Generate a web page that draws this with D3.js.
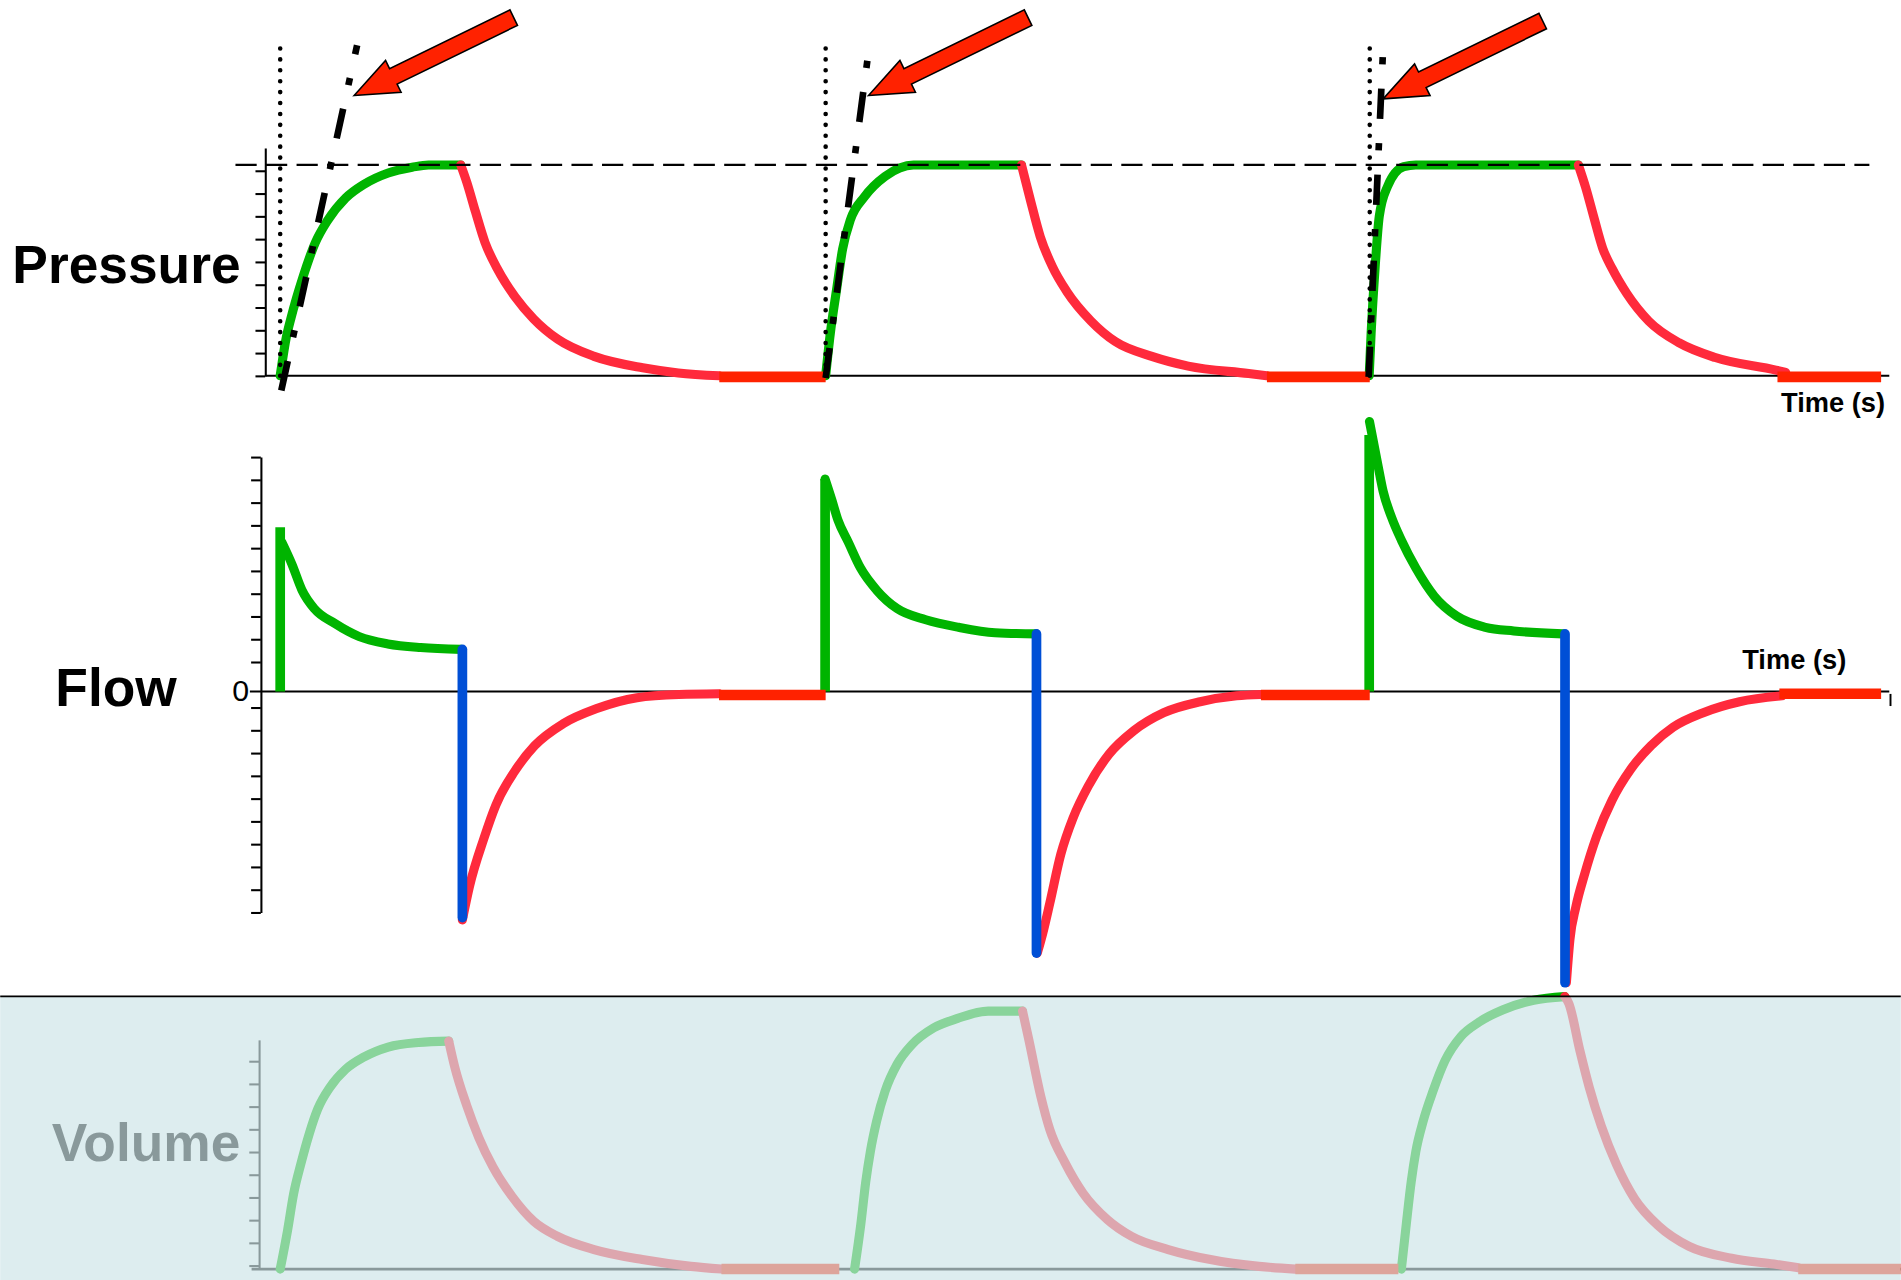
<!DOCTYPE html>
<html>
<head>
<meta charset="utf-8">
<script src="https://cdn.jsdelivr.net/npm/d3@7"></script>
<style>
  html, body { margin: 0; padding: 0; background: #fff; }
  svg { display: block; }
  text { font-family: "Liberation Sans", Arial, Helvetica, sans-serif; }
</style>
</head>
<body>
<div id="chart"></div>
<script>
// ---- data (time in s, pressure in cmH2O, flow in L/min, volume in mL) ----

// pressure: inspiration (green), expiration (red), rest at baseline (bright red)
var pressureInsp = [
  [[0, 0], [0.021, 3.2], [0.04, 5.1], [0.084, 8.7], [0.129, 11.7], [0.173, 13.6], [0.24, 15.6], [0.307, 16.8], [0.396, 17.8], [0.484, 18.3], [0.544, 18.5], [0.662, 18.5]],
  [[2.0, 0], [2.017, 3.7], [2.04, 7.55], [2.062, 11.1], [2.091, 13.7], [2.142, 15.7], [2.218, 17.5], [2.322, 18.5], [2.718, 18.5]],
  [[3.993, 0], [4.0, 3.7], [4.015, 9.6], [4.03, 14.0], [4.06, 16.6], [4.12, 18.35], [4.164, 18.5], [4.76, 18.5]]
];
var pressureExp = [
  [[0.662, 18.5], [0.684, 17.0], [0.716, 14.4], [0.751, 11.7], [0.796, 9.4], [0.862, 6.9], [0.929, 5.0], [1.018, 3.2], [1.151, 1.7], [1.329, 0.7], [1.46, 0.25], [1.61, 0]],
  [[2.718, 18.5], [2.751, 15.4], [2.787, 12.2], [2.831, 9.6], [2.884, 7.4], [2.973, 4.8], [3.062, 3.0], [3.196, 1.7], [3.329, 0.85], [3.551, 0.2], [3.618, 0]],
  [[4.76, 18.5], [4.787, 16.5], [4.818, 13.8], [4.849, 11.2], [4.884, 9.4], [4.938, 7.2], [5.018, 4.8], [5.129, 2.9], [5.262, 1.6], [5.484, 0.5], [5.52, 0.3]]
];
var pressureRest = [[1.61, 2.0, -0.1], [3.618, 3.995, -0.1], [5.49, 5.87, -0.1]];
var plateauPressure = 18.5;
var pressureTicks = [0, 2, 4, 6, 8, 10, 12, 14, 16, 18];
var breathStart = [0, 2.0, 3.995];
// tangent (initial slope) lines and the arrows pointing at them
var slopeLines = [
  [[0.004, -1.3], [0.282, 29.0]],
  [[2.0, -0.2], [2.157, 28.4]],
  [[3.991, -0.1], [4.044, 28.7]]
];
var arrowTips = [[0.271, 24.6], [2.157, 24.6], [4.044, 24.3]];

// flow
var flowRise = [[0, 72.1], [1.998, 93.3], [3.993, 112.7]];
var flowInsp = [
  [[0.006, 65.6], [0.043, 55.9], [0.08, 44.5], [0.125, 36.4], [0.2, 29.9], [0.29, 24.1], [0.395, 20.9], [0.515, 19.3], [0.664, 18.5]],
  [[1.998, 93.3], [2.022, 84.4], [2.045, 75.3], [2.083, 65.6], [2.128, 54.2], [2.187, 44.5], [2.262, 36.4], [2.367, 31.5], [2.487, 28.2], [2.621, 25.8], [2.771, 25.3]],
  [[3.994, 118.6], [4.026, 98.8], [4.044, 88.0], [4.075, 76.5], [4.112, 66.2], [4.164, 54.2], [4.232, 41.8], [4.314, 33.1], [4.419, 28.2], [4.523, 26.6], [4.703, 25.3]]
];
var flowDrop = [[0.668, 18.5, -99.3], [2.773, 25.3, -114.9], [4.711, 25.3, -127.9]];
var flowExp = [
  [[0.668, -100.3], [0.694, -85.6], [0.747, -64.5], [0.791, -49.8], [0.859, -35.2], [0.933, -23.8], [1.038, -14.1], [1.158, -7.6], [1.308, -2.7], [1.462, -1.3], [1.609, -1.0]],
  [[2.776, -114.9], [2.796, -106.2], [2.822, -92.9], [2.862, -71.6], [2.907, -55.6], [2.964, -41.3], [3.04, -27.4], [3.129, -17.3], [3.24, -9.3], [3.373, -4.5], [3.507, -1.9], [3.596, -1.3]],
  [[4.716, -127.9], [4.729, -108.9], [4.751, -94.5], [4.782, -80.6], [4.827, -63.6], [4.884, -47.6], [4.951, -34.3], [5.027, -23.7], [5.107, -15.7], [5.218, -9.3], [5.351, -4.5], [5.507, -1.9]]
];
var flowRest = [[1.609, 2.0, -1.5], [3.596, 3.995, -1.5], [5.497, 5.87, -1.0]];
var flowTicks = [-97, -87, -77, -67, -57, -47, -37, -27, -17, -7, 13, 23, 33, 43, 53, 63, 73, 83, 93, 103];

// volume
var volInsp = [
  [[0, 0], [0.027, 85], [0.049, 165], [0.076, 232], [0.107, 299], [0.138, 353], [0.182, 400], [0.24, 440], [0.307, 467], [0.396, 489], [0.507, 499], [0.618, 502]],
  [[2.106, 0], [2.129, 99], [2.147, 192], [2.164, 259], [2.187, 326], [2.218, 392], [2.262, 451], [2.316, 494], [2.396, 531], [2.484, 552], [2.596, 568], [2.722, 568]],
  [[4.111, 0], [4.129, 99], [4.147, 192], [4.164, 259], [4.191, 326], [4.227, 392], [4.271, 459], [4.329, 512], [4.396, 544], [4.484, 571], [4.596, 592], [4.71, 600]]
];
var volExp = [
  [[0.618, 502], [0.64, 445], [0.684, 360], [0.728, 290], [0.78, 225], [0.85, 160], [0.93, 105], [1.017, 72], [1.151, 43], [1.328, 21], [1.506, 6], [1.618, 0]],
  [[2.722, 568], [2.745, 505], [2.789, 380], [2.822, 307], [2.878, 234], [2.944, 167], [3.033, 109], [3.122, 72], [3.256, 43], [3.411, 21], [3.589, 6], [3.722, 0]],
  [[4.71, 600], [4.725, 585], [4.766, 480], [4.8, 400], [4.844, 315], [4.9, 230], [4.966, 155], [5.056, 94], [5.166, 50], [5.322, 24], [5.477, 11], [5.566, 3]]
];
var volRest = [[1.618, 2.05, 0], [3.722, 4.1, 0], [5.566, 5.942, 0]];
var volTicks = [8, 58, 108, 158, 208, 258, 308, 358, 408, 458];

// ---- layout (drawing units; viewBox scales them up to the 1901x1280 window) ----
var W = 1568, H = 1056;
var col = { insp: "#00b400", exp: "#ff2a3c", rest: "#ff2200", drop: "#004fd6" };
var lineW = 7.5;

var svg = d3.select("#chart").append("svg")
    .attr("width", 1901)
    .attr("height", 1280)
    .attr("viewBox", "0 0 " + W + " " + H);

var x = d3.scaleLinear().domain([0, 6]).range([231, 1581]);
var yP = d3.scaleLinear().domain([0, 20]).range([310, 122]);
var yF = d3.scaleLinear().domain([-97, 103]).range([752.7, 377]);
var yV = d3.scaleLinear().domain([0, 505]).range([1047, 857.8]);

function curveFor(y) {
    return d3.line()
        .x(function (d) { return x(d[0]); })
        .y(function (d) { return y(d[1]); })
        .curve(d3.curveMonotoneX);
}
function straightFor(y) {
    return d3.line()
        .x(function (d) { return x(d[0]); })
        .y(function (d) { return y(d[1]); });
}

function yAxis(g, y, ticks, xPos) {
    var a = g.append("g")
        .attr("transform", "translate(" + xPos + ",0)")
        .attr("color", "#000")
        .call(d3.axisLeft(y).tickValues(ticks).tickSize(8).tickSizeOuter(0).tickFormat(""));
    a.selectAll("path, line").attr("stroke-width", 1.7);
}

function drawCurves(g, y, insp, exp, rest, width) {
    var curve = curveFor(y), straight = straightFor(y);
    insp.forEach(function (seg) {
        g.append("path").datum(seg).attr("d", curve)
            .attr("fill", "none").attr("stroke", col.insp).attr("stroke-width", width)
            .attr("stroke-linecap", "round").attr("stroke-linejoin", "round");
    });
    exp.forEach(function (seg) {
        g.append("path").datum(seg).attr("d", curve)
            .attr("fill", "none").attr("stroke", col.exp).attr("stroke-width", width)
            .attr("stroke-linecap", "round").attr("stroke-linejoin", "round");
    });
    rest.forEach(function (r) {
        g.append("path").datum([[r[0], r[2]], [r[1], r[2]]]).attr("d", straight)
            .attr("fill", "none").attr("stroke", col.rest).attr("stroke-width", width + 1.2);
    });
}

// ===== Pressure =====
var gP = svg.append("g");
yAxis(gP, yP, pressureTicks, 218.6);
gP.append("line")
    .attr("x1", 218.6).attr("x2", x(5.9))
    .attr("y1", yP(0)).attr("y2", yP(0))
    .attr("stroke", "#000").attr("stroke-width", 1.7);

drawCurves(gP, yP, pressureInsp, pressureExp, pressureRest, lineW);

// set pressure level
gP.append("path")
    .datum([[-0.164, plateauPressure], [5.827, plateauPressure]])
    .attr("d", straightFor(yP))
    .attr("fill", "none").attr("stroke", "#000").attr("stroke-width", 1.9)
    .attr("stroke-dasharray", "17.5 7.7");

// start of each breath
breathStart.forEach(function (t) {
    gP.append("path")
        .datum([[t, 0], [t, 28.8]])
        .attr("d", straightFor(yP))
        .attr("fill", "none").attr("stroke", "#000").attr("stroke-width", 3.8)
        .attr("stroke-linecap", "round").attr("stroke-dasharray", "0 9");
});

// initial slope lines
slopeLines.forEach(function (s) {
    gP.append("path")
        .datum(s)
        .attr("d", straightFor(yP))
        .attr("fill", "none").attr("stroke", "#000").attr("stroke-width", 5.5)
        .attr("stroke-dasharray", "25 20 6 20");
});

// block arrows
var arrowShape = [[0, 0], [36, 14.6], [36, 7.1], [146.5, 7.1], [146.5, -7.1], [36, -7.1], [36, -14.6]];
var U = [0.8988, -0.4384], N = [0.4384, 0.8988];
arrowTips.forEach(function (tip) {
    var tx = x(tip[0]), ty = yP(tip[1]);
    var pts = arrowShape.map(function (p) {
        return [tx + p[0] * U[0] + p[1] * N[0], ty + p[0] * U[1] + p[1] * N[1]];
    });
    gP.append("polygon")
        .attr("points", pts.map(function (p) { return p.join(","); }).join(" "))
        .attr("fill", "#ff2200").attr("stroke", "#000").attr("stroke-width", 1.3)
        .attr("stroke-linejoin", "miter");
});

gP.append("text").attr("x", 10).attr("y", 233.5)
    .attr("font-size", 44).attr("font-weight", "bold").text("Pressure");
gP.append("text").attr("x", 1555).attr("y", 340).attr("text-anchor", "end")
    .attr("font-size", 22.5).attr("font-weight", "bold").text("Time (s)");

// ===== Flow =====
var gF = svg.append("g");
yAxis(gF, yF, flowTicks, 215);
gF.append("line")
    .attr("x1", 206).attr("x2", x(5.9))
    .attr("y1", yF(0)).attr("y2", yF(0))
    .attr("stroke", "#000").attr("stroke-width", 1.7);
gF.append("line")
    .attr("x1", x(5.9) + 1).attr("x2", x(5.9) + 1)
    .attr("y1", yF(0) + 2).attr("y2", yF(0) + 12)
    .attr("stroke", "#000").attr("stroke-width", 1.6);

flowRise.forEach(function (r) {
    gF.append("path").datum([[r[0], 0], [r[0], r[1]]]).attr("d", straightFor(yF))
        .attr("fill", "none").attr("stroke", col.insp).attr("stroke-width", lineW + 0.5);
});
drawCurves(gF, yF, flowInsp, flowExp, flowRest, lineW);
flowDrop.forEach(function (d) {
    gF.append("path").datum([[d[0], d[1]], [d[0], d[2]]]).attr("d", straightFor(yF))
        .attr("fill", "none").attr("stroke", col.drop).attr("stroke-width", lineW + 0.5)
        .attr("stroke-linecap", "round");
});

gF.append("text").attr("x", 45.5).attr("y", 582.5)
    .attr("font-size", 44).attr("font-weight", "bold").text("Flow");
gF.append("text").attr("x", 205.3).attr("y", 578.6).attr("text-anchor", "end")
    .attr("font-size", 25).text("0");
gF.append("text").attr("x", 1523).attr("y", 552).attr("text-anchor", "end")
    .attr("font-size", 22.5).attr("font-weight", "bold").text("Time (s)");

// ===== Volume (drawn normally, then veiled) =====
var gV = svg.append("g");
yAxis(gV, yV, volTicks, 213.5);
gV.append("line")
    .attr("x1", 207.4).attr("x2", W)
    .attr("y1", yV(0)).attr("y2", yV(0))
    .attr("stroke", "#000").attr("stroke-width", 2.2);
drawCurves(gV, yV, volInsp, volExp, volRest, lineW);
gV.append("text").attr("x", 42.5).attr("y", 958)
    .attr("font-size", 44).attr("font-weight", "bold").text("Volume");

svg.append("rect")
    .attr("x", 0).attr("y", 822).attr("width", W).attr("height", H - 822)
    .attr("fill", "rgb(204,228,231)").attr("fill-opacity", 0.67);
svg.append("line")
    .attr("x1", 0).attr("x2", W).attr("y1", 822).attr("y2", 822)
    .attr("stroke", "#000").attr("stroke-width", 1.6);
</script>
</body>
</html>
